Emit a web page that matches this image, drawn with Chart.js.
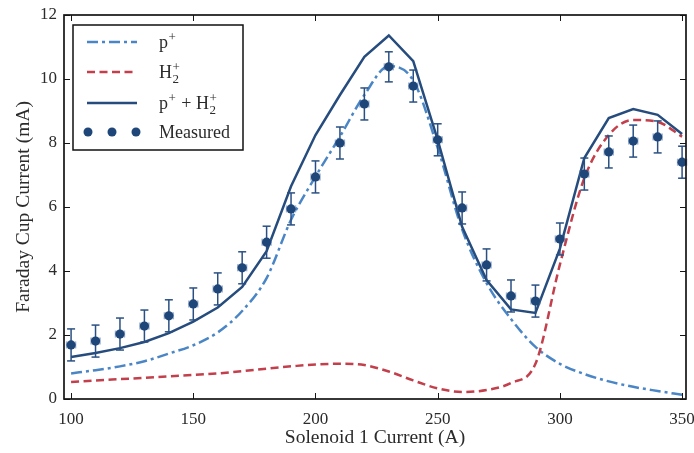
<!DOCTYPE html>
<html>
<head>
<meta charset="utf-8">
<script src="https://cdn.jsdelivr.net/npm/chart.js@4"></script>
<style>
html,body{margin:0;padding:0;background:#fff;}
canvas{display:block;}
</style>
</head>
<body>
<canvas id="c" width="694" height="453"></canvas>
<script>
// ---------- data ----------
const currents = [100,110,120,130,140,150,160,170,180,190,200,210,220,230,240,250,260,270,280,290,300,310,320,330,340,350];
const protonModel = [0.80,0.90,1.02,1.18,1.42,1.68,2.08,2.75,3.78,5.60,6.95,8.20,9.50,10.40,9.95,7.85,5.30,3.62,2.50,1.63,1.10,0.78,0.55,0.38,0.25,0.13];
const h2Model = [0.53,0.58,0.62,0.66,0.71,0.75,0.80,0.87,0.95,1.02,1.08,1.10,1.06,0.86,0.58,0.33,0.22,0.28,0.50,1.10,4.20,6.90,8.25,8.72,8.66,8.20];
const sumModel = [1.31,1.44,1.59,1.78,2.06,2.42,2.86,3.50,4.62,6.65,8.25,9.50,10.69,11.36,10.56,8.10,5.38,3.72,2.80,2.69,4.70,7.53,8.78,9.06,8.88,8.28];
const measured = [1.69,1.81,2.03,2.28,2.60,2.97,3.44,4.10,4.90,5.94,6.94,8.00,9.22,10.38,9.78,8.10,5.97,4.19,3.22,3.06,5.00,7.03,7.72,8.06,8.19,7.40];
const measuredYErr = [0.5,0.5,0.5,0.5,0.5,0.5,0.5,0.5,0.5,0.5,0.5,0.5,0.5,0.47,0.5,0.5,0.5,0.5,0.5,0.5,0.5,0.5,0.5,0.5,0.5,0.5];
const measuredXErr = [1.8,1.8,1.8,1.8,1.8,1.8,1.8,1.8,1.8,1.8,1.8,1.8,1.8,1.8,1.8,1.8,1.8,1.8,1.8,1.8,1.8,1.8,1.8,1.8,1.8,1.8];
const xTicks = [100,150,200,250,300,350];
const yTicks = [0,2,4,6,8,10,12];
const xTitle = 'Solenoid 1 Current (A)';
const yTitle = 'Faraday Cup Current (mA)';

// ---------- styles ----------
const C_SUM = '#264c7e';
const C_P = '#4a86c6';
const C_H2 = '#c23f4b';
const C_MEAS = '#1f4679';
const TEXT = '#2b2b2b';
const SERIF = '"Liberation Serif", "DejaVu Serif", serif';

const pts = arr => currents.map((x,i)=>({x:x, y:arr[i]}));

function hLine(ctx,x1,y1,x2,y2){ctx.beginPath();ctx.moveTo(x1,y1);ctx.lineTo(x2,y2);ctx.stroke();}

// rich text: parts of {t} normal, {sup}, {sub}
function drawRich(ctx, x, y, parts){
  const base = '18px ' + SERIF, small = '13px ' + SERIF;
  ctx.textBaseline = 'alphabetic';
  ctx.textAlign = 'left';
  parts.forEach(p=>{
    if (p.t !== undefined){
      ctx.font = base; ctx.fillText(p.t, x, y); x += ctx.measureText(p.t).width;
    } else {
      ctx.font = small;
      let w = 0;
      if (p.sup){ ctx.fillText(p.sup, x+0.5, y-7.5); w = Math.max(w, ctx.measureText(p.sup).width); }
      if (p.sub){ ctx.fillText(p.sub, x+0.5, y+4.5); w = Math.max(w, ctx.measureText(p.sub).width); }
      x += w + 1.5;
    }
  });
}

const legendItems = [
  {kind:'dashdot', color:C_P, parts:[{t:'p'},{sup:'+'}]},
  {kind:'dash', color:C_H2, parts:[{t:'H'},{sub:'2', sup:'+'}]},
  {kind:'solid', color:C_SUM, parts:[{t:'p'},{sup:'+'},{t:' + H'},{sub:'2', sup:'+'}]},
  {kind:'dots', color:C_MEAS, parts:[{t:'Measured'}]}
];

const errorBarPlugin = {
  id:'errbars',
  beforeDatasetDraw(chart, args){
    if (chart.data.datasets[args.index].label !== 'Measured') return;
    const {ctx, scales:{x,y}} = chart;
    ctx.save();
    // horizontal (light)
    ctx.strokeStyle = 'rgba(70,110,165,0.55)';
    ctx.lineWidth = 1.6;
    currents.forEach((c,i)=>{
      const py = y.getPixelForValue(measured[i]);
      const x1 = x.getPixelForValue(c - measuredXErr[i]);
      const x2 = x.getPixelForValue(c + measuredXErr[i]);
      hLine(ctx,x1,py,x2,py);
      hLine(ctx,x1,py-3.5,x1,py+3.5);
      hLine(ctx,x2,py-3.5,x2,py+3.5);
    });
    // vertical (dark)
    ctx.strokeStyle = '#2a5083';
    ctx.lineWidth = 1.5;
    currents.forEach((c,i)=>{
      const px = x.getPixelForValue(c);
      const y1 = y.getPixelForValue(measured[i] - measuredYErr[i]);
      const y2 = y.getPixelForValue(measured[i] + measuredYErr[i]);
      hLine(ctx,px,y1,px,y2);
      hLine(ctx,px-4,y1,px+4,y1);
      hLine(ctx,px-4,y2,px+4,y2);
    });
    ctx.restore();
  }
};

const framePlugin = {
  id:'frame',
  afterDraw(chart){
    const {ctx, chartArea:{left,right,top,bottom}, scales:{x,y}} = chart;
    ctx.save();
    ctx.strokeStyle = '#151515';
    ctx.lineWidth = 1;
    xTicks.forEach(v=>{
      const px = Math.round(x.getPixelForValue(v)) + 0.5;
      hLine(ctx,px,bottom,px,bottom-6);
      hLine(ctx,px,top,px,top+6);
    });
    yTicks.forEach(v=>{
      const py = Math.round(y.getPixelForValue(v)) + 0.5;
      hLine(ctx,left,py,left+6,py);
      hLine(ctx,right,py,right-6,py);
    });
    ctx.lineWidth = 1.7;
    ctx.strokeRect(left, top, right-left, bottom-top);

    // legend
    const bx = 73, by = 25, bw = 170, bh = 125;
    ctx.fillStyle = '#fff';
    ctx.fillRect(bx,by,bw,bh);
    ctx.lineWidth = 1.5;
    ctx.strokeStyle = '#111';
    ctx.strokeRect(bx,by,bw,bh);
    const rows = [42, 72, 103, 132];
    legendItems.forEach((it,i)=>{
      const ry = rows[i];
      ctx.strokeStyle = it.color; ctx.fillStyle = it.color;
      ctx.lineWidth = 2.5;
      if (it.kind === 'dots'){
        [88,112,136].forEach(dx=>{ctx.beginPath();ctx.arc(dx,ry,4.5,0,Math.PI*2);ctx.fill();});
      } else {
        if (it.kind==='dashdot') ctx.setLineDash([11,4,3,4]);
        else if (it.kind==='dash') ctx.setLineDash([8,4.5]);
        else ctx.setLineDash([]);
        hLine(ctx,87,ry,137,ry);
        ctx.setLineDash([]);
      }
      ctx.fillStyle = TEXT;
      drawRich(ctx, 159, ry+6, it.parts);
    });
    ctx.restore();
  }
};

new Chart(document.getElementById('c'), {
  type:'line',
  data:{
    datasets:[
      {label:'Measured', data:pts(measured), showLine:false, pointRadius:4.6, pointBackgroundColor:C_MEAS, pointBorderColor:C_MEAS, pointBorderWidth:0, order:0},
      {label:'p+ + H2+', data:pts(sumModel), borderColor:C_SUM, borderWidth:2.5, pointRadius:0, tension:0, fill:false, order:1},
      {label:'H2+', data:pts(h2Model), borderColor:C_H2, borderWidth:2.5, borderDash:[8,4.5], pointRadius:0, cubicInterpolationMode:'monotone', fill:false, order:2},
      {label:'p+', data:pts(protonModel), borderColor:C_P, borderWidth:2.5, borderDash:[11,4,3,4], pointRadius:0, cubicInterpolationMode:'monotone', fill:false, order:3}
    ]
  },
  options:{
    responsive:false,
    devicePixelRatio:1,
    animation:false,
    layout:{padding:{top:15, right:8, left:0, bottom:0}},
    plugins:{legend:{display:false}, tooltip:{enabled:false}},
    scales:{
      x:{
        type:'linear', min:97.1, max:351.6,
        afterBuildTicks: s => { s.ticks = xTicks.map(v=>({value:v})); },
        afterFit: s => { s.height = 54; s.paddingLeft = 0; s.paddingRight = 0; },
        grid:{display:false, drawTicks:false},
        border:{display:false},
        ticks:{font:{family:SERIF, size:17}, color:TEXT, padding:10, maxRotation:0},
        title:{display:true, text:xTitle, font:{family:SERIF, size:19.5}, color:TEXT, padding:{top:0,bottom:3}}
      },
      y:{
        type:'linear', min:0, max:12,
        afterBuildTicks: s => { s.ticks = yTicks.map(v=>({value:v})); },
        afterFit: s => { s.width = 64; s.paddingTop = 0; s.paddingBottom = 0; },
        grid:{display:false, drawTicks:false},
        border:{display:false},
        ticks:{font:{family:SERIF, size:17}, color:TEXT, padding:7},
        title:{display:true, text:yTitle, font:{family:SERIF, size:19.5}, color:TEXT, padding:{top:12,bottom:0}}
      }
    }
  },
  plugins:[errorBarPlugin, framePlugin]
});
</script>
</body>
</html>
